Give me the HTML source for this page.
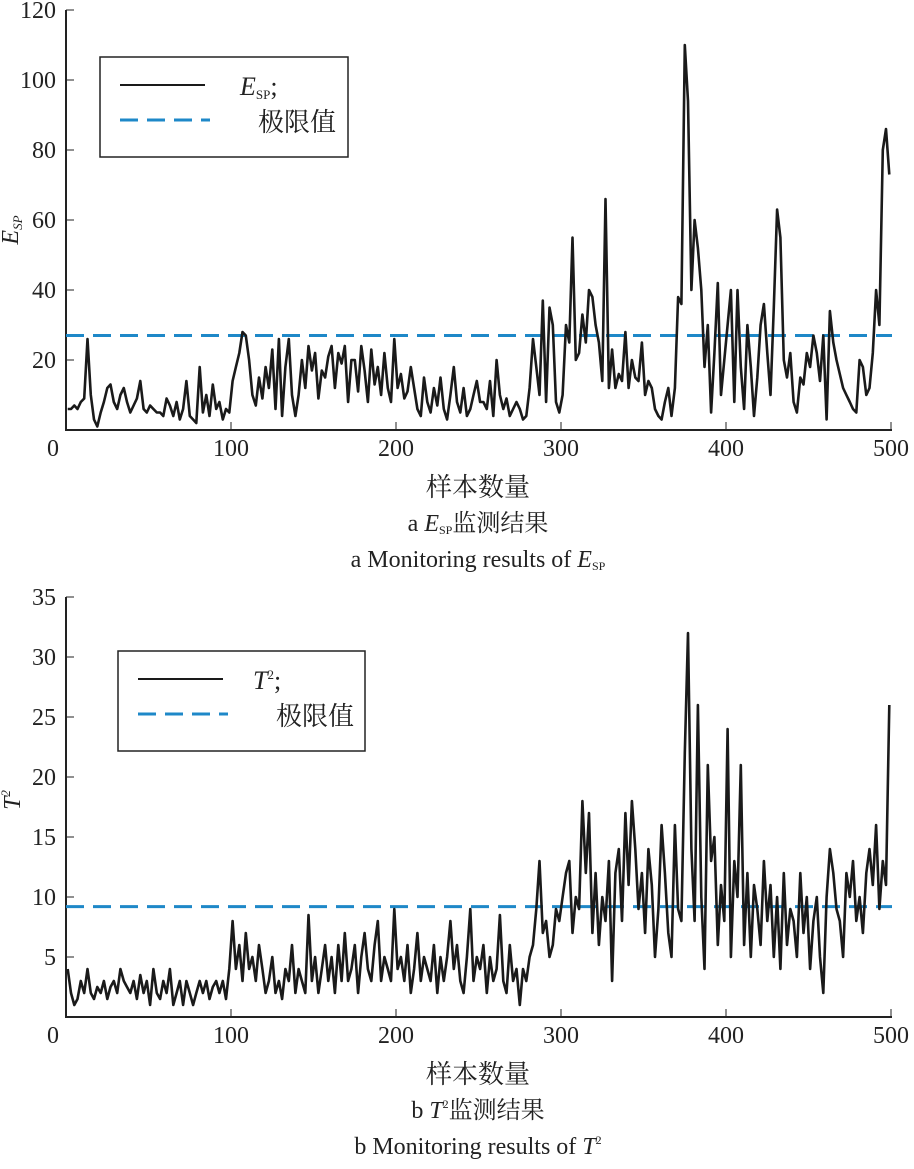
<!DOCTYPE html>
<html><head><meta charset="utf-8"><style>
body{margin:0;background:#fff;}
svg text{font-family:"Liberation Serif","Noto Serif CJK SC",serif;fill:#222;}
</style></head><body>
<svg id="chart" width="914" height="1164" viewBox="0 0 914 1164" xmlns="http://www.w3.org/2000/svg"></svg>
<script>
const espValues=[6,6,7,6,8,9,26,10,3,1,5,8,12,13,8,6,10,12,8,5,7,9,14,6,5,7,6,5,5,4,9,7,4,8,3,6,14,4,3,2,18,5,10,4,13,6,8,3,6,5,14,18,22,28,27,20,10,7,15,9,18,12,23,6,26,4,18,26,10,4,10,20,12,24,17,22,9,17,15,21,24,12,22,19,24,8,20,20,11,24,17,8,23,13,18,10,22,12,8,26,12,16,9,11,18,12,6,4,15,8,5,12,7,15,6,3,10,18,8,5,12,4,6,10,14,8,8,6,14,4,20,10,6,9,4,6,8,6,3,4,12,26,18,10,37,8,35,30,8,5,10,30,25,55,20,22,33,25,40,38,30,25,14,66,12,23,12,16,14,28,12,20,15,14,25,10,14,12,6,4,3,8,12,4,12,38,36,110,94,40,60,52,40,18,30,5,22,42,10,20,30,40,8,40,18,6,30,18,4,15,30,36,22,10,35,63,55,20,15,22,8,5,15,13,22,18,27,22,14,27,3,34,25,20,16,12,10,8,6,5,20,18,10,12,22,40,30,80,86,73];
const t2Values=[4,2,1,1.5,3,2,4,2,1.5,2.5,2,3,1.5,2.5,3,2,4,3,2.5,2,3,1.5,3.5,2,3,1,4,2,1.5,3,2,4,1,2,3,1,3,2,1,2,3,2,3,1.5,2.5,3,2,3,1.5,4,8,4,6,3,7,4,5,3,6,4,2,3,5,2,3,1.5,4,3,6,2,4,3,2,8.5,3,5,2,4,6,3,5,2,6,3,7,3,4,6,2,5,7,4,3,6,8,3,5,4,3,9,4,5,3,6,2,4,7,3,5,4,3,6,2,5,3,5,8,4,6,3,2,5,9,3,5,4,6,2,5,3,4,8.5,3,2,6,3,4,1,4,3,5,6,9,13,7,8,5,6,9,8,10,12,13,7,10,9,18,12,17,7,12,6,10,8,13,3,12,14,8,17,11,18,14,9,12,7,14,11,5,9,16,12,7,5,16,9,8,22,32,14,8,26,10,4,21,13,15,6,11,8,24,5,13,10,21,6,12,5,11,9,6,13,8,11,5,10,4,12,6,9,8,5,12,7,10,4,8,10,5,2,10,14,12,9,8,5,12,10,13,8,10,7,12,14,11,16,9,13,11,26];
const espLimit=[27];
const t2Limit=[9.2];
const xTicks=[0,100,200,300,400,500];
const espTicks=[20,40,60,80,100,120];
const t2Ticks=[5,10,15,20,25,30,35];
const sampleStep=2;

const svg=document.getElementById('chart');
const NS='http://www.w3.org/2000/svg';
function mk(tag,attrs,parent){const e=document.createElementNS(NS,tag);for(const k in attrs)e.setAttribute(k,attrs[k]);(parent||svg).appendChild(e);return e;}

function panel(cfg){
  const g=mk('g',{});
  
  
  const x=v=>66+v*(825/500);
  const y=v=>cfg.y0-v*(cfg.y0-cfg.yTop)/cfg.ymax;
  const ax=mk('path',{d:`M66 ${cfg.yTop} V${cfg.y0} H892`,stroke:'#222','stroke-width':2,fill:'none'},g);
  
  
  xTicks.forEach(t=>{
    mk('line',{x1:x(t),x2:x(t),y1:cfg.y0,y2:cfg.y0-8,stroke:'#222','stroke-width':1},g);
    const tx=mk('text',{x:t===0?53:x(t),y:cfg.y0+26,'font-size':24,'text-anchor':'middle'},g);
    tx.textContent=t;
    
    
  });
  cfg.ticks.forEach(t=>{
    mk('line',{x1:66,x2:74,y1:y(t),y2:y(t),stroke:'#222','stroke-width':1},g);
    const tx=mk('text',{x:56,y:y(t)+8,'font-size':24,'text-anchor':'end'},g);
    tx.textContent=t;
    
    
  });
  const lim=mk('line',{x1:66,x2:892,y1:y(cfg.limit[0]),y2:y(cfg.limit[0]),stroke:'#1e88c8','stroke-width':3,'stroke-dasharray':'18 9'},g);
  
  
  const pts=cfg.values.map((v,i)=>x(i*sampleStep+1).toFixed(1)+','+y(v).toFixed(1)).join(' ');
  const pl=mk('polyline',{points:pts,fill:'none',stroke:'#1a1a1a','stroke-width':2.6,'stroke-linejoin':'round'},g);
  
  
  const lg=mk('g',{},g);
  
  
  const L=cfg.legend;
  mk('rect',{x:L.x,y:L.y,width:L.w,height:100,fill:'#fff',stroke:'#222','stroke-width':1.5},lg);
  mk('line',{x1:L.x+20,x2:L.x+105,y1:L.y+28,y2:L.y+28,stroke:'#1a1a1a','stroke-width':2},lg);
  mk('line',{x1:L.x+20,x2:L.x+110,y1:L.y+63,y2:L.y+63,stroke:'#1e88c8','stroke-width':3,'stroke-dasharray':'18 9'},lg);
  const t1=mk('text',{x:L.x+L.tx,y:L.y+38,'font-size':26},lg);
  t1.innerHTML=cfg.legendLabel;
  const t2=mk('text',{x:L.x+158,y:L.y+74,'font-size':26},lg);
  t2.textContent='极限值';
  const yt=mk('text',{x:0,y:0,'font-size':24,'font-style':'italic',transform:`translate(${cfg.ytx},${cfg.yty}) rotate(-90)`,'text-anchor':'middle'},g);
  yt.innerHTML=cfg.yTitle;
  
  
  const xt=mk('text',{x:478,y:cfg.y0+66,'font-size':26,'text-anchor':'middle'},g);
  xt.textContent='样本数量';
  
  
  const c1=mk('text',{x:478,y:cfg.y0+101,'font-size':24,'text-anchor':'middle'},g);
  c1.innerHTML=cfg.cap1;
  
  
  const c2=mk('text',{x:478,y:cfg.y0+137,'font-size':24,'text-anchor':'middle'},g);
  c2.innerHTML=cfg.cap2;
  
  
}
panel({name:'esp-panel',seriesName:'esp-series',values:espValues,limit:espLimit,ticks:espTicks,ymax:120,y0:430,yTop:10,
  legend:{x:100,y:57,w:248,tx:140},legendLabel:'<tspan font-style="italic">E</tspan><tspan font-size="13" dy="4">SP</tspan><tspan dy="-4">;</tspan>',
  yTitle:'E<tspan font-size="13" dy="4">SP</tspan>',ytx:18,yty:230,
  cap1:'a <tspan font-style="italic">E</tspan><tspan font-size="12" dy="3">SP</tspan><tspan dy="-3">监测结果</tspan>',
  cap2:'a  Monitoring results of <tspan font-style="italic">E</tspan><tspan font-size="12" dy="3">SP</tspan>'});
panel({name:'t2-panel',seriesName:'t2-series',values:t2Values,limit:t2Limit,ticks:t2Ticks,ymax:35,y0:1017,yTop:597,
  legend:{x:118,y:651,w:247,tx:135},legendLabel:'<tspan font-style="italic">T</tspan><tspan font-size="13" dy="-10">2</tspan><tspan dy="10">;</tspan>',
  yTitle:'T<tspan font-size="13" dy="-10">2</tspan>',ytx:20,yty:800,
  cap1:'b <tspan font-style="italic">T</tspan><tspan font-size="12" dy="-10">2</tspan><tspan dy="10">监测结果</tspan>',
  cap2:'b  Monitoring results of <tspan font-style="italic">T</tspan><tspan font-size="12" dy="-10">2</tspan>'});
</script>
</body></html>
